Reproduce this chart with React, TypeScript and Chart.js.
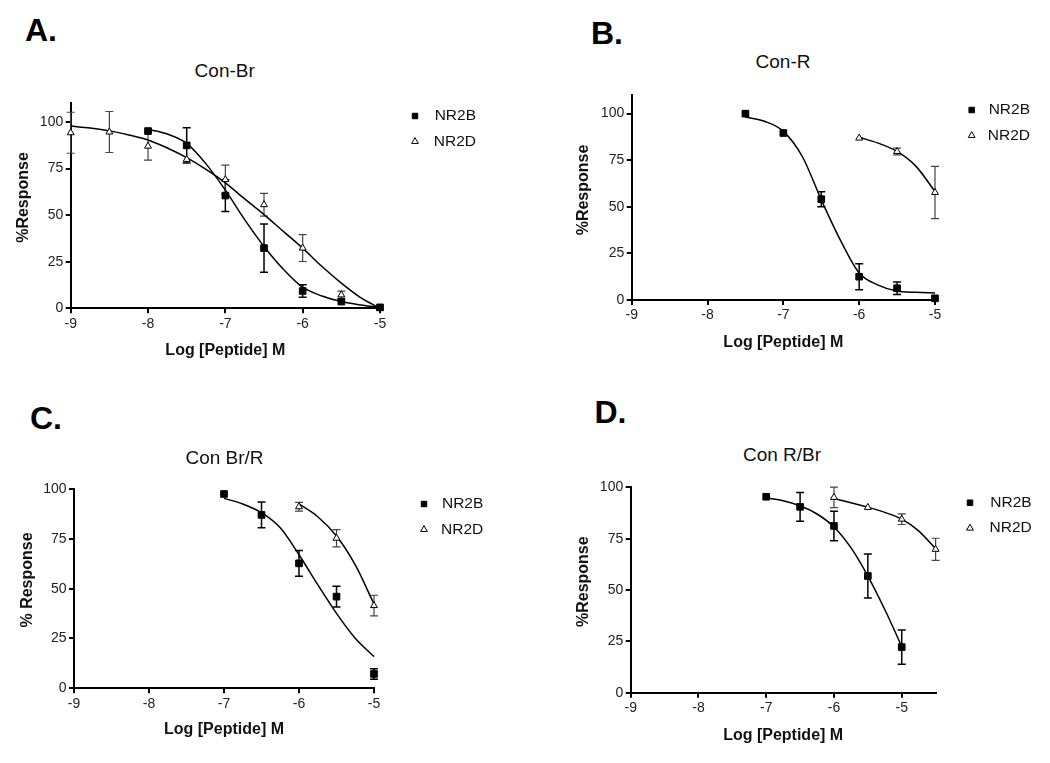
import React, { useEffect, useRef } from 'react';
import { Chart, registerables } from 'chart.js';

Chart.register(...registerables);

const FONT = '"Liberation Sans", Arial, Helvetica, sans-serif';
Chart.defaults.font.family = FONT;

// ---------- shared ticks / labels ----------
const xTickValues = [-9, -8, -7, -6, -5];
const yTickValues = [0, 25, 50, 75, 100];
const seriesNames = ['NR2B', 'NR2D'];
const xAxisTitle = 'Log [Peptide] M';

// ---------- Panel A : Con-Br ----------
const conBrNR2BX = [-8, -7.5, -7, -6.5, -6, -5.5, -5];
const conBrNR2BY = [95.1, 87.4, 60.5, 32.3, 9.3, 3.6, 0.5];
const conBrNR2BSem = [0, 9.5, 8.5, 13, 3.4, 0, 0];
const conBrNR2DX = [-9, -8.5, -8, -7.5, -7, -6.5, -6, -5.5, -5];
const conBrNR2DY = [94.2, 94.6, 87, 79.9, 69.1, 55.6, 32.3, 7.2, 0];
const conBrNR2DSem = [11, 11, 7.5, 0, 7.7, 6.1, 7.2, 2, 0];
const conBrFitBX = [-8, -7.75, -7.5, -7.25, -7, -6.75, -6.5, -6.25, -6, -5.75, -5.5, -5.25, -5];
const conBrFitBY = [96, 93.5, 88.5, 77.5, 63.4, 47.6, 33.2, 21, 11.3, 6.6, 3.6, 1.8, 0.5];
const conBrFitDX = [-9, -8.75, -8.5, -8.25, -8, -7.75, -7.5, -7.25, -7, -6.75, -6.5, -6.25, -6, -5.75, -5.5, -5.25, -5];
const conBrFitDY = [97.8, 96.7, 95.2, 93, 90.3, 86, 80.8, 74.5, 67.3, 58.7, 50.3, 41.3, 32.3, 22.4, 13.5, 5.7, 0];

// ---------- Panel B : Con-R ----------
const conRNR2BX = [-7.5, -7, -6.5, -6, -5.5, -5];
const conRNR2BY = [100, 89.6, 54.1, 12.5, 6.3, 0.9];
const conRNR2BSem = [0, 0, 4, 7, 3.3, 0];
const conRNR2DX = [-6, -5.5, -5];
const conRNR2DY = [86.9, 79.7, 57.7];
const conRNR2DSem = [0, 1.8, 14];
const conRFitBX = [-7.5, -7.25, -7, -6.75, -6.5, -6.25, -6, -5.75, -5.5, -5.25, -5];
const conRFitBY = [98.2, 95.9, 90.5, 77, 53.8, 32.3, 14.5, 8, 4.8, 4.1, 3.8];
const conRFitDX = [-6, -5.75, -5.5, -5.25, -5];
const conRFitDY = [87.3, 84.2, 79.7, 71.7, 58.2];

// ---------- Panel C : Con Br/R ----------
const conBrRNR2BX = [-7, -6.5, -6, -5.5, -5];
const conBrRNR2BY = [97.5, 87, 62.7, 46, 7.2];
const conBrRNR2BSem = [0, 6.5, 6.5, 5.2, 2.6];
const conBrRNR2DX = [-6, -5.5, -5];
const conBrRNR2DY = [91.1, 75.3, 41.5];
const conBrRNR2DSem = [2.2, 4.3, 5.2];
const conBrRFitBX = [-7, -6.75, -6.5, -6.25, -6, -5.75, -5.5, -5.25, -5];
const conBrRFitBY = [95.3, 92.5, 88.1, 80.5, 67, 52, 37.6, 25.1, 15.9];
const conBrRFitDX = [-6, -5.75, -5.5, -5.25, -5];
const conBrRFitDY = [92.5, 86.1, 76.4, 61.9, 42.3];

// ---------- Panel D : Con R/Br ----------
const conRBrNR2BX = [-7, -6.5, -6, -5.5, -5];
const conRBrNR2BY = [95.4, 90.5, 81.2, 56.8, 22.2];
const conRBrNR2BSem = [0, 7, 7.2, 10.7, 8.3];
const conRBrNR2DX = [-6, -5.5, -5, -4.5];
const conRBrNR2DY = [95.1, 90.2, 84.5, 69.8];
const conRBrNR2DSem = [5, 0, 2.6, 5.4];
const conRBrFitBX = [-7, -6.75, -6.5, -6.25, -6, -5.75, -5.5, -5.25, -5];
const conRBrFitBY = [94.9, 93.5, 91, 87, 80.7, 70.6, 56.8, 40.5, 22.5];
const conRBrFitDX = [-6, -5.75, -5.5, -5.25, -5, -4.75, -4.5];
const conRBrFitDY = [94.5, 92.5, 90.3, 87.8, 84.5, 78.8, 70.1];

// ---------- panel descriptions ----------
const panelContent = [
  {
    letter: 'A.', title: 'Con-Br', yTitle: '%Response', yMax: 110, xMax: -5,
    b: { x: conBrNR2BX, y: conBrNR2BY, sem: conBrNR2BSem, fx: conBrFitBX, fy: conBrFitBY },
    d: { x: conBrNR2DX, y: conBrNR2DY, sem: conBrNR2DSem, fx: conBrFitDX, fy: conBrFitDY },
  },
  {
    letter: 'B.', title: 'Con-R', yTitle: '%Response', yMax: 110, xMax: -5,
    b: { x: conRNR2BX, y: conRNR2BY, sem: conRNR2BSem, fx: conRFitBX, fy: conRFitBY },
    d: { x: conRNR2DX, y: conRNR2DY, sem: conRNR2DSem, fx: conRFitDX, fy: conRFitDY },
  },
  {
    letter: 'C.', title: 'Con Br/R', yTitle: '% Response', yMax: 100, xMax: -5,
    b: { x: conBrRNR2BX, y: conBrRNR2BY, sem: conBrRNR2BSem, fx: conBrRFitBX, fy: conBrRFitBY },
    d: { x: conBrRNR2DX, y: conBrRNR2DY, sem: conBrRNR2DSem, fx: conBrRFitDX, fy: conBrRFitDY },
  },
  {
    letter: 'D.', title: 'Con R/Br', yTitle: '%Response', yMax: 100, xMax: -4.5,
    b: { x: conRBrNR2BX, y: conRBrNR2BY, sem: conRBrNR2BSem, fx: conRBrFitBX, fy: conRBrFitBY },
    d: { x: conRBrNR2DX, y: conRBrNR2DY, sem: conRBrNR2DSem, fx: conRBrFitDX, fy: conRBrFitDY },
  },
];

// layout (page coordinates)
const panelLayout = [
  {
    canvas: { l: 0, t: 85, w: 490, h: 285 },
    plot: { l: 70.7, r: 380, t: 103.3, b: 308.3 },
    yAxisLeft: 14.4, xAxisBottom: 360.3, yTitleShift: -8.3,
    legend: { mx: 415, my: 116, tr: 476 },
    letter: { x: 25, y: 30 }, title: { x: 224.7, y: 70 },
  },
  {
    canvas: { l: 560, t: 75, w: 480, h: 285 },
    plot: { l: 631.7, r: 935, t: 95, b: 300 },
    yAxisLeft: 574.4, xAxisBottom: 352.4, yTitleShift: -7.5,
    legend: { mx: 971.7, my: 110, tr: 1030 },
    letter: { x: 591, y: 33.3 }, title: { x: 783, y: 60.8 },
  },
  {
    canvas: { l: 0, t: 465, w: 495, h: 285 },
    plot: { l: 74, r: 374, t: 489, b: 688.3 },
    yAxisLeft: 18.4, xAxisBottom: 739.3, yTitleShift: -8.7,
    legend: { mx: 424, my: 504, tr: 483.3 },
    letter: { x: 30, y: 418.3 }, title: { x: 224.5, y: 456.7 },
  },
  {
    canvas: { l: 560, t: 465, w: 480, h: 290 },
    plot: { l: 630.7, r: 935.6, t: 487.3, b: 692.7 },
    yAxisLeft: 573.7, xAxisBottom: 745.4, yTitleShift: -8.3,
    legend: { mx: 970, my: 502.7, tr: 1031.7 },
    letter: { x: 594.4, y: 411.7 }, title: { x: 782, y: 453.8 },
  },
];

const LEGEND_W = 80;
const LEGEND_FONT = 15.5;
const LEGEND_PAD = 10;

const toPts = (xs: number[], ys: number[]) => xs.map((x, i) => ({ x, y: ys[i] }));

const errorBarPlugin = {
  id: 'errorBars',
  beforeDatasetsDraw(chart: any) {
    const ctx = chart.ctx;
    const xs = chart.scales.x;
    const ys = chart.scales.y;
    chart.data.datasets.forEach((ds: any) => {
      if (!ds.errors) return;
      ctx.save();
      ctx.strokeStyle = ds.errColor;
      ctx.lineWidth = ds.errWidth;
      ds.data.forEach((p: any, j: number) => {
        const e = ds.errors[j];
        if (!e) return;
        const px = xs.getPixelForValue(p.x);
        const top = ys.getPixelForValue(p.y + e);
        const bot = ys.getPixelForValue(Math.max(0, p.y - e));
        const cap = 4;
        ctx.beginPath();
        ctx.moveTo(px, top);
        ctx.lineTo(px, bot);
        ctx.moveTo(px - cap, top);
        ctx.lineTo(px + cap, top);
        ctx.moveTo(px - cap, bot);
        ctx.lineTo(px + cap, bot);
        ctx.stroke();
      });
      ctx.restore();
    });
  },
};

// places the legend box and nudges the y-axis title, after Chart.js has done its layout
const placementPlugin = {
  id: 'placement',
  afterLayout(chart: any, _args: any, opts: any) {
    const lg = chart.legend;
    if (lg && opts.left != null) {
      const h = lg.height;
      lg.left = opts.left;
      lg.right = opts.right;
      lg.width = opts.right - opts.left;
      lg.top = opts.top;
      lg.bottom = opts.top + h;
    }
    const ys = chart.scales.y;
    if (ys && !ys.__titleWrapped) {
      const orig = ys.drawTitle;
      const dy = opts.yTitleShift || 0;
      ys.drawTitle = function () {
        const ctx = this.ctx;
        ctx.save();
        ctx.translate(0, dy);
        orig.call(this);
        ctx.restore();
      };
      ys.__titleWrapped = true;
    }
  },
};

function Panel({ idx }: { idx: number }) {
  const ref = useRef<HTMLCanvasElement>(null);
  const c = panelContent[idx];
  const g = panelLayout[idx];

  useEffect(() => {
    const pl = g.yAxisLeft - g.canvas.l;
    const yw = g.plot.l - g.yAxisLeft;
    const pt = g.plot.t - g.canvas.t;
    const xh = g.xAxisBottom - g.plot.b;
    const pb = g.canvas.t + g.canvas.h - g.xAxisBottom;
    const pr = g.canvas.l + g.canvas.w - g.plot.r - LEGEND_W;
    const off = LEGEND_PAD + LEGEND_FONT / 2;

    const tickFont = { family: FONT, size: 14 };
    const titleFont = { family: FONT, size: 16, weight: 'bold' as const };

    const chart = new Chart(ref.current as HTMLCanvasElement, {
      type: 'scatter',
      data: {
        datasets: [
          {
            label: seriesNames[0],
            data: toPts(c.b.x, c.b.y),
            errors: c.b.sem, errColor: '#000', errWidth: 1.5,
            pointStyle: 'rect', pointRadius: 4.7,
            backgroundColor: '#000', borderColor: '#000', borderWidth: 1,
            showLine: false, clip: false, order: 0,
          } as any,
          {
            label: seriesNames[1],
            data: toPts(c.d.x, c.d.y),
            errors: c.d.sem, errColor: '#444', errWidth: 1.2,
            pointStyle: 'triangle', pointRadius: 4,
            backgroundColor: '#fff', borderColor: '#000', borderWidth: 1,
            showLine: false, clip: false, order: 0,
          } as any,
          {
            label: seriesNames[0] + ' fit', fit: true,
            data: toPts(c.b.fx, c.b.fy),
            showLine: true, pointRadius: 0, borderColor: '#000', borderWidth: 1.5,
            backgroundColor: '#000', cubicInterpolationMode: 'monotone', fill: false,
            clip: false, order: 1,
          } as any,
          {
            label: seriesNames[1] + ' fit', fit: true,
            data: toPts(c.d.fx, c.d.fy),
            showLine: true, pointRadius: 0, borderColor: '#000', borderWidth: 1.5,
            backgroundColor: '#000', cubicInterpolationMode: 'monotone', fill: false,
            clip: false, order: 1,
          } as any,
        ],
      },
      options: {
        animation: false,
        responsive: false,
        events: [],
        layout: { padding: { left: pl, right: pr, top: pt, bottom: pb } },
        scales: {
          x: {
            type: 'linear', position: 'bottom', min: -9, max: c.xMax,
            afterBuildTicks: (s: any) => { s.ticks = xTickValues.map((v) => ({ value: v })); },
            afterFit: (s: any) => { s.height = xh; },
            ticks: { font: tickFont, color: '#222', padding: 2, callback: (v: any) => String(v), maxRotation: 0 },
            grid: { display: true, drawOnChartArea: false, drawTicks: true, tickLength: 5, lineWidth: 2, color: '#000' },
            border: { display: true, color: '#000', width: 2 },
            title: { display: true, text: xAxisTitle, font: titleFont, color: '#111', padding: 0 },
          },
          y: {
            type: 'linear', position: 'left', min: 0, max: c.yMax,
            afterBuildTicks: (s: any) => { s.ticks = yTickValues.map((v) => ({ value: v })); },
            afterFit: (s: any) => { s.width = yw; },
            ticks: { font: tickFont, color: '#222', padding: 2.5, callback: (v: any) => String(v) },
            grid: { display: true, drawOnChartArea: false, drawTicks: true, tickLength: 5, lineWidth: 2, color: '#000' },
            border: { display: true, color: '#000', width: 2 },
            title: { display: true, text: c.yTitle, font: titleFont, color: '#111', padding: 0 },
          },
        },
        plugins: {
          tooltip: { enabled: false },
          title: { display: false },
          legend: {
            display: true, position: 'right', align: 'start', fullSize: false, maxWidth: LEGEND_W,
            labels: {
              usePointStyle: true, boxHeight: 5.5, padding: LEGEND_PAD, textAlign: 'right',
              font: { family: FONT, size: LEGEND_FONT }, color: '#111',
              filter: (item: any, data: any) => !data.datasets[item.datasetIndex].fit,
            },
          },
          placement: {
            left: g.legend.mx - g.canvas.l - off,
            right: g.legend.tr - g.canvas.l,
            top: g.legend.my - g.canvas.t - off,
            yTitleShift: g.yTitleShift,
          },
        } as any,
      } as any,
      plugins: [errorBarPlugin, placementPlugin],
    });
    return () => chart.destroy();
  }, []);

  return (
    <>
      <canvas
        ref={ref}
        width={g.canvas.w}
        height={g.canvas.h}
        style={{ position: 'absolute', left: g.canvas.l, top: g.canvas.t, width: g.canvas.w, height: g.canvas.h }}
      />
      <div
        style={{
          position: 'absolute', left: g.letter.x, top: g.letter.y, transform: 'translateY(-50%)',
          font: `bold 32px ${FONT}`, lineHeight: 1, color: '#000', whiteSpace: 'nowrap',
        }}
      >
        {c.letter}
      </div>
      <div
        style={{
          position: 'absolute', left: g.title.x, top: g.title.y, transform: 'translate(-50%, -50%)',
          font: `19px ${FONT}`, lineHeight: 1, color: '#111', whiteSpace: 'nowrap',
        }}
      >
        {c.title}
      </div>
    </>
  );
}

export default function App() {
  return (
    <div style={{ position: 'absolute', left: 0, top: 0, width: 1050, height: 763, background: '#fff', overflow: 'hidden' }}>
      {panelContent.map((_, i) => (
        <Panel key={i} idx={i} />
      ))}
    </div>
  );
}
